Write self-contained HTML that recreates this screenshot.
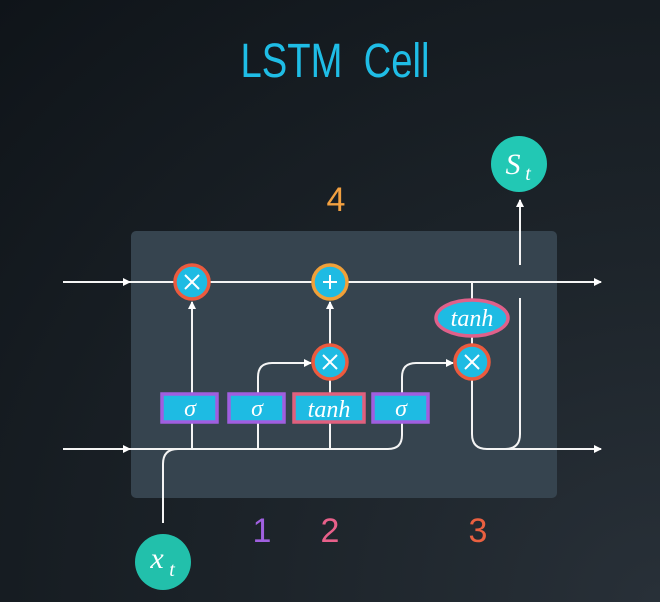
<!DOCTYPE html>
<html><head><style>
html,body{margin:0;padding:0}
body{width:660px;height:602px;overflow:hidden;background:radial-gradient(ellipse at 100% 100%,#283038 0%,#1c2329 45%,#0f1419 100%)}
svg{display:block}
</style></head><body>
<svg width="660" height="602" viewBox="0 0 660 602" xmlns="http://www.w3.org/2000/svg">
<defs>
<marker id="ar" markerWidth="8" markerHeight="8" refX="7" refY="4" orient="auto" markerUnits="userSpaceOnUse">
<path d="M0,0 L8,4 L0,8 z" fill="#fff"/></marker>
</defs>
<text x="335" y="77" text-anchor="middle" font-family="Liberation Sans, sans-serif" font-size="48" fill="#1fbde6" textLength="189" lengthAdjust="spacingAndGlyphs">LSTM&#160;&#160;Cell</text>
<rect x="131" y="231" width="426" height="267" rx="5" fill="#36444f"/>
<g stroke="#f4f4f4" stroke-width="2" fill="none">
<line x1="63" y1="282" x2="130" y2="282" marker-end="url(#ar)"/>
<line x1="130" y1="282" x2="601" y2="282" marker-end="url(#ar)"/>
<line x1="63" y1="449" x2="130" y2="449" marker-end="url(#ar)"/>
<path d="M130,449 L388,449 Q402,449 402,435 L402,423"/>
<path d="M163,523 L163,464 Q163,449 178,449"/>
<line x1="192" y1="449" x2="192" y2="302" marker-end="url(#ar)"/>
<line x1="330" y1="449" x2="330" y2="344"/>
<line x1="330" y1="344" x2="330" y2="302" marker-end="url(#ar)"/>
<path d="M258,449 L258,377 Q258,363 272,363 L311,363" marker-end="url(#ar)"/>
<path d="M402,393 L402,377 Q402,363 416,363 L453,363" marker-end="url(#ar)"/>
<line x1="472" y1="282" x2="472" y2="380"/>
<path d="M472,380 L472,434 Q472,449 487,449 L601,449" marker-end="url(#ar)"/>
<path d="M520,298 L520,434 Q520,449 505,449"/>
<line x1="520" y1="265" x2="520" y2="200" marker-end="url(#ar)"/>
</g>
<g stroke-width="3.5">
<circle cx="192" cy="282" r="17" fill="#1ebbe3" stroke="#ec5a3e"/>
<circle cx="330" cy="282" r="17" fill="#1ebbe3" stroke="#f0a038"/>
<circle cx="330" cy="362" r="17" fill="#1ebbe3" stroke="#ec5a3e"/>
<circle cx="472" cy="362" r="17" fill="#1ebbe3" stroke="#ec5a3e"/>
</g>
<g stroke="#fff" stroke-width="2">
<path d="M185,275 L199,289 M199,275 L185,289"/>
<path d="M323,355 L337,369 M337,355 L323,369"/>
<path d="M465,355 L479,369 M479,355 L465,369"/>
<path d="M330,275 L330,289 M323,282 L337,282"/>
</g>
<g stroke-width="3.5" fill="#1ebbe3">
<rect x="162" y="394" width="55" height="28" stroke="#a05ee0"/>
<rect x="229" y="394" width="55" height="28" stroke="#a05ee0"/>
<rect x="294" y="394" width="70" height="28" stroke="#e0607e"/>
<rect x="373" y="394" width="55" height="28" stroke="#a05ee0"/>
<ellipse cx="472" cy="318" rx="36" ry="18" stroke="#e0608a"/>
</g>
<g font-family="Liberation Serif, serif" font-style="italic" fill="#fff" text-anchor="middle" font-size="24">
<text x="190" y="416">σ</text>
<text x="257" y="416">σ</text>
<text x="329" y="417">tanh</text>
<text x="401" y="416">σ</text>
<text x="472" y="326">tanh</text>
</g>
<circle cx="519" cy="164" r="28" fill="#22c8b4"/>
<text x="513" y="174" font-family="Liberation Serif, serif" font-style="italic" font-size="30" fill="#fff" text-anchor="middle">S</text>
<text x="528" y="180" font-family="Liberation Serif, serif" font-style="italic" font-size="20" fill="#fff" text-anchor="middle">t</text>
<circle cx="163" cy="562" r="28" fill="#22c0ab"/>
<text x="157" y="568" font-family="Liberation Serif, serif" font-style="italic" font-size="30" fill="#fff" text-anchor="middle">x</text>
<text x="172" y="576" font-family="Liberation Serif, serif" font-style="italic" font-size="20" fill="#fff" text-anchor="middle">t</text>
<g font-family="Liberation Sans, sans-serif" font-size="34" text-anchor="middle">
<text x="336" y="211" fill="#f2a040">4</text>
<text x="262" y="542" fill="#a060e0">1</text>
<text x="330" y="542" fill="#e8608a">2</text>
<text x="478" y="542" fill="#ea6040">3</text>
</g>
</svg>
</body></html>
